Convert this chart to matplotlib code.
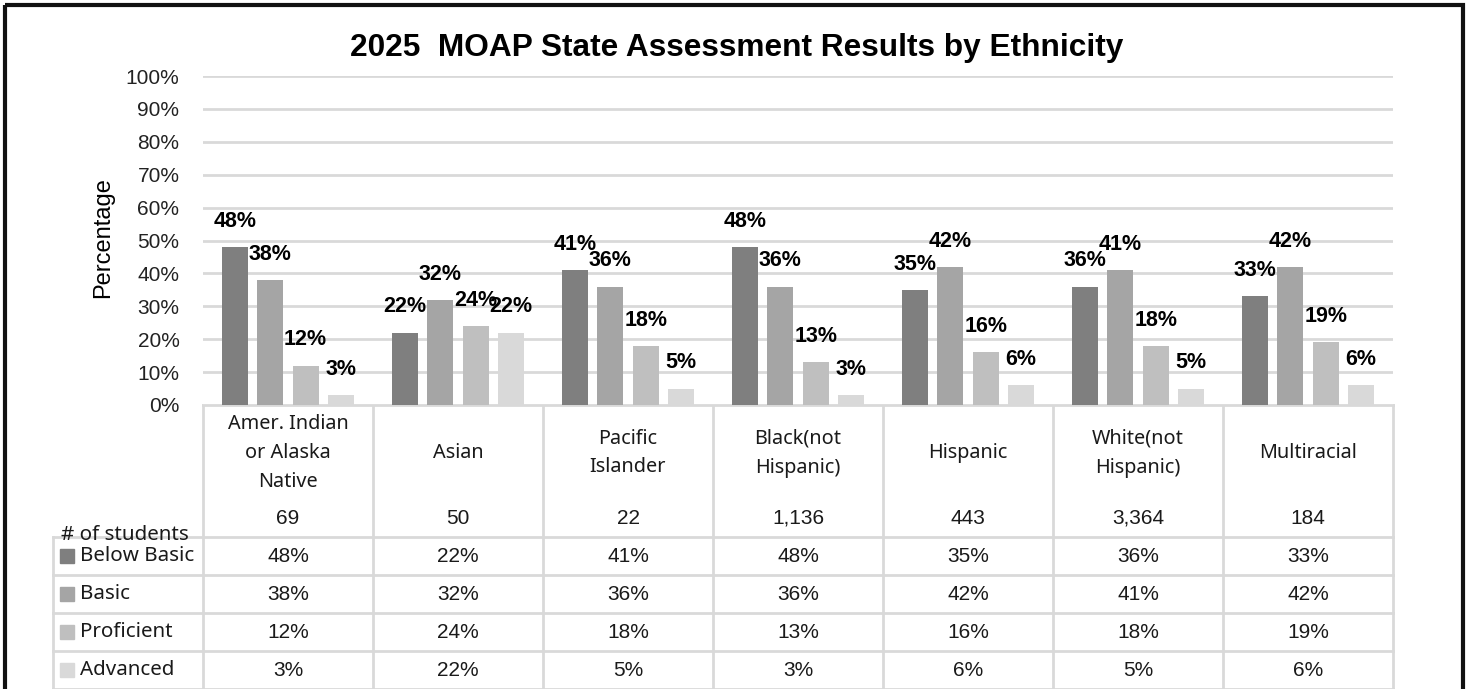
import matplotlib.pyplot as plt
import matplotlib.transforms as mtransforms
from matplotlib.patches import Rectangle

# 数据
categories = ['Amer. Indian\nor Alaska\nNative', 'Asian', 'Pacific\nIslander',
              'Black(not\nHispanic)', 'Hispanic', 'White(not\nHispanic)', 'Multiracial']
students = ['69', '50', '22', '1,136', '443', '3,364', '184']
levels = ['Below Basic', 'Basic', 'Proficient', 'Advanced']
below_basic = [48, 22, 41, 48, 35, 36, 33]
basic = [38, 32, 36, 36, 42, 41, 42]
proficient = [12, 24, 18, 13, 16, 18, 19]
advanced = [3, 22, 5, 3, 6, 5, 6]
colors = ['#7f7f7f', '#a5a5a5', '#bfbfbf', '#d9d9d9']

series = [below_basic, basic, proficient, advanced]

W, H = 1469, 689
fig = plt.figure(figsize=(W / 100, H / 100), dpi=100)
plt.rcParams['font.family'] = ['Liberation Sans', 'DejaVu Sans']

# 覆盖层：以像素为坐标
ov = fig.add_axes([0, 0, 1, 1])
ov.set_xlim(0, W)
ov.set_ylim(H, 0)
ov.axis('off')

# 主图区域
ax = fig.add_axes([203 / W, 1 - 405 / H, (1393 - 203) / W, (405 - 76) / H])
ax.set_xlim(-0.5, len(categories) - 0.5)
ax.set_ylim(0, 100)
for s in ax.spines.values():
    s.set_visible(False)
ax.set_yticks(range(0, 101, 10))
ax.set_yticklabels([f'{v}%' for v in range(0, 101, 10)], fontsize=15, color='#222222')
ax.tick_params(axis='y', length=0, pad=17)
ax.set_xticks([])
ax.yaxis.grid(True, color='#d9d9d9', linewidth=2)
ax.set_axisbelow(True)
ax.set_ylabel('Percentage', fontsize=17)
ax.yaxis.set_label_coords(-0.075, 0.51)

bw = 0.153
step = 0.208
for i, (vals, c) in enumerate(zip(series, colors)):
    xs = [k + (i - 1.5) * step for k in range(len(categories))]
    bars = ax.bar(xs, vals, width=bw, color=c, zorder=2)
    for b, v in zip(bars, vals):
        ax.annotate(f'{v}%', (b.get_x() + b.get_width() / 2, v), xytext=(0, 18.5),
                    textcoords='offset points', ha='center', va='center',
                    fontsize=15.5, fontweight='bold')

fig.text(737 / W, 1 - 48 / H, '2025  MOAP State Assessment Results by Ethnicity',
         ha='center', va='center', fontsize=22.8, fontweight='bold')

# 表格
line_c = '#d9d9d9'
bt = mtransforms.blended_transform_factory(ax.transData, ov.transData)
n = len(categories)
row_y = [537, 575, 613, 651, 689]
ov.plot([-0.5, n - 0.5], [405, 405], color=line_c, lw=2, transform=bt)
for k in range(n + 1):
    ov.plot([k - 0.5, k - 0.5], [405, 689], color=line_c, lw=2, transform=bt)
for y in row_y:
    ov.plot([53, 1393], [y, y], color=line_c, lw=2)
ov.plot([53, 53], [537, 689], color=line_c, lw=2)

for k, (cat, cnt) in enumerate(zip(categories, students)):
    ov.text(k, 453, cat, transform=bt, ha='center', va='center', fontsize=14.3,
            linespacing=1.6, family=['Noto Sans', 'DejaVu Sans'], color='#1a1a1a')
    ov.text(k, 518, cnt, transform=bt, ha='center', va='center', fontsize=15,
            color='#1a1a1a')
    for r, vals in enumerate(series):
        ov.text(k, (row_y[r] + row_y[r + 1]) / 2, f'{vals[k]}%', transform=bt,
                ha='center', va='center', fontsize=15, color='#1a1a1a')

ov.text(61, 535, '# of students', ha='left', va='center', fontsize=14.8,
        family=['Noto Sans', 'DejaVu Sans'], color='#1a1a1a')
for r, (lv, c) in enumerate(zip(levels, colors)):
    yc = (row_y[r] + row_y[r + 1]) / 2
    ov.add_patch(Rectangle((60, yc - 7), 14, 14, color=c))
    ov.text(80, yc, lv, ha='left', va='center', fontsize=14.8,
            family=['Noto Sans', 'DejaVu Sans'], color='#1a1a1a')

# 外框
ov.add_patch(Rectangle((5, 5), 1458, 700, fill=False, edgecolor='#111111', lw=3,
                       clip_on=False))

plt.savefig('out.png', dpi=100)
